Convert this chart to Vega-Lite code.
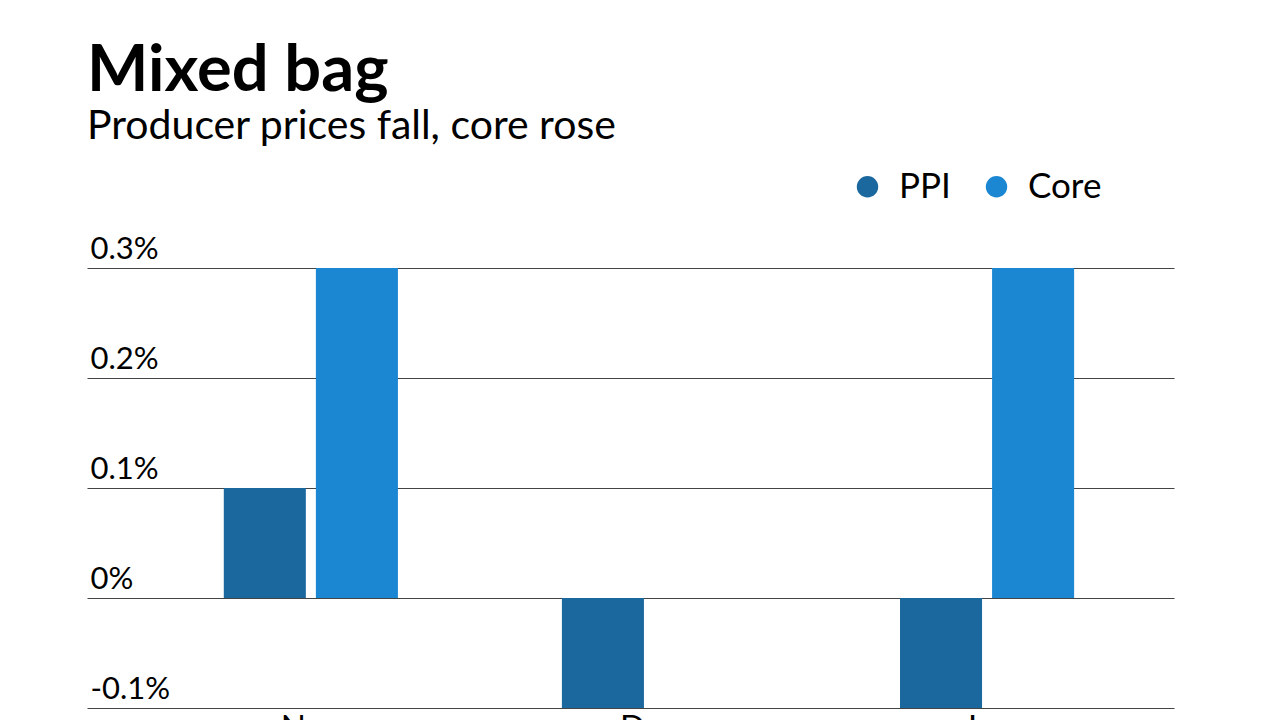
{
  "$schema": "https://vega.github.io/schema/vega-lite/v6.json",
  "autosize": "none",
  "width": 1087,
  "height": 440,
  "padding": {"left": 87, "top": 268, "right": 106, "bottom": 12},
  "background": "white",
  "title": {
    "text": "Mixed bag",
    "subtitle": "Producer prices fall, core rose",
    "anchor": "start",
    "frame": "group",
    "font": "Lato",
    "fontSize": 65,
    "fontWeight": "bold",
    "color": "#000000",
    "subtitleFont": "Lato",
    "subtitleFontSize": 41,
    "subtitleColor": "#000000",
    "subtitlePadding": 2,
    "offset": 21
  },
  "data": {
    "values": [
      {"month": "Nov", "series": "PPI", "value": 0.1},
      {"month": "Nov", "series": "Core", "value": 0.3},
      {"month": "Dec", "series": "PPI", "value": -0.1},
      {"month": "Dec", "series": "Core", "value": 0},
      {"month": "Jan", "series": "PPI", "value": -0.1},
      {"month": "Jan", "series": "Core", "value": 0.3}
    ]
  },
  "mark": {"type": "bar"},
  "encoding": {
    "x": {
      "field": "month",
      "type": "nominal",
      "sort": ["Nov", "Dec", "Jan"],
      "scale": {"paddingInner": 0.485, "paddingOuter": 0.35, "align": 0.578},
      "axis": {
        "title": null,
        "labelAngle": 0,
        "labelFont": "Lato",
        "labelFontSize": 33,
        "labelColor": "#000000",
        "labelPadding": 4,
        "ticks": false,
        "domain": false
      }
    },
    "xOffset": {
      "field": "series",
      "type": "nominal",
      "sort": ["PPI", "Core"],
      "scale": {"paddingInner": 0.109, "paddingOuter": 0}
    },
    "y": {
      "field": "value",
      "type": "quantitative",
      "scale": {"domain": [-0.1, 0.3], "nice": false, "zero": false},
      "axis": {
        "title": null,
        "values": [-0.1, 0, 0.1, 0.2, 0.3],
        "labelExpr": "datum.value + '%'",
        "labelAlign": "left",
        "labelBaseline": "alphabetic",
        "labelPadding": -3,
        "labelOffset": -10,
        "labelFont": "Lato",
        "labelFontSize": 31,
        "labelColor": "#000000",
        "ticks": false,
        "domain": false,
        "grid": true,
        "gridColor": "#444444",
        "gridWidth": 1,
        "gridOpacity": 1
      }
    },
    "color": {
      "field": "series",
      "type": "nominal",
      "sort": ["PPI", "Core"],
      "scale": {"domain": ["PPI", "Core"], "range": ["#1b689e", "#1b87d3"]},
      "legend": {
        "title": null,
        "orient": "none",
        "legendX": 763,
        "legendY": -99,
        "direction": "horizontal",
        "symbolType": "circle",
        "symbolSize": 460,
        "symbolStrokeWidth": 0,
        "labelFont": "Lato",
        "labelFontSize": 35,
        "labelColor": "#000000",
        "labelOffset": 14,
        "columnPadding": 28
      }
    }
  },
  "config": {
    "view": {"stroke": null}
  }
}
